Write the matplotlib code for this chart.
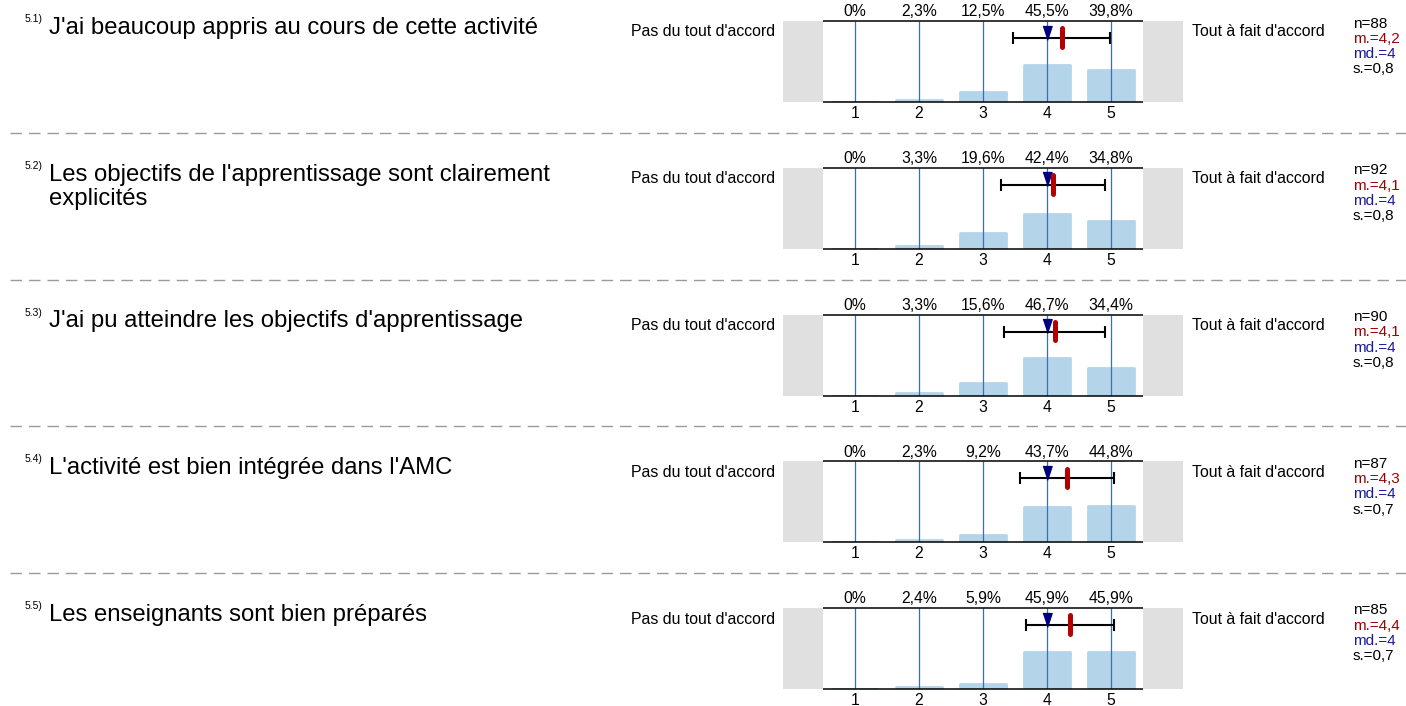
import matplotlib
matplotlib.use("Agg")
import matplotlib.pyplot as plt

plt.rcParams['font.family'] = ['Liberation Sans', 'DejaVu Sans']
plt.rcParams['lines.scale_dashes'] = False

# données
numbers = ["5.1)", "5.2)", "5.3)", "5.4)", "5.5)"]
questions = [
    "J'ai beaucoup appris au cours de cette activité",
    "Les objectifs de l'apprentissage sont clairement\nexplicités",
    "J'ai pu atteindre les objectifs d'apprentissage",
    "L'activité est bien intégrée dans l'AMC",
    "Les enseignants sont bien préparés",
]
scale = [1, 2, 3, 4, 5]
pct = [
    [0, 2.3, 12.5, 45.5, 39.8],
    [0, 3.3, 19.6, 42.4, 34.8],
    [0, 3.3, 15.6, 46.7, 34.4],
    [0, 2.3, 9.2, 43.7, 44.8],
    [0, 2.4, 5.9, 45.9, 45.9],
]
n_resp = [88, 92, 90, 87, 85]
means = [4.23, 4.09, 4.12, 4.31, 4.36]
medians = [4, 4, 4, 4, 4]
sds = [0.76, 0.81, 0.79, 0.73, 0.69]
left_label = "Pas du tout d'accord"
right_label = "Tout à fait d'accord"

W, H = 1406, 706
fig = plt.figure(figsize=(W / 100, H / 100), dpi=100)

def fx(px):
  return px / W

def fy(py):
  return 1 - py / H

def fmt(v):
  return ("%.1f" % v).replace(".", ",")

tri = [(-0.33, 0.5), (0.33, 0.5), (0, -0.5)]

for k in range(5):
  top = 21 + k * 146.75
  ax = fig.add_axes([fx(783), fy(top + 81), 400 / W, 81 / H])
  ax.set_xlim(-0.125, 6.125)
  ax.set_ylim(0, 100)
  for s in ax.spines.values():
    s.set_visible(False)
  ax.set_yticks([])
  ax.set_xticks(scale)
  ax.tick_params(axis='x', length=0, pad=3, labelsize=11.3)

  ax.axvspan(-0.125, 0.5, color='#e0e0e0', lw=0)
  ax.axvspan(5.5, 6.125, color='#e0e0e0', lw=0)

  ax.bar(scale, pct[k], width=0.72, color='#b4d4ea', edgecolor='#b4d4ea',
         linewidth=2, joinstyle='round', zorder=1)
  ax.vlines(scale, 0, 100, color='#3b6fae', lw=0.9, zorder=2)
  ax.hlines([0, 100], 0.5, 5.5, color='black', lw=1.1, zorder=3, clip_on=False)

  for x, p in zip(scale, pct[k]):
    lab = "0%" if p == 0 else fmt(p) + "%"
    ax.annotate(lab, (x, 100), xytext=(0, 1.2), textcoords='offset points',
                ha='center', va='bottom', fontsize=11.3)

  ax.errorbar(means[k], 79, xerr=sds[k], color='black', lw=1.5, capsize=4.5,
              capthick=1.5, zorder=4)
  ax.plot([means[k], means[k]], [68, 91], color='#b40000', lw=3.6,
          solid_capstyle='round', zorder=6)
  ax.plot(medians[k], 85.5, marker=tri, markersize=10, color='#00007f',
          lw=0, zorder=5)

  fig.text(fx(775), fy(top + 11), left_label, ha='right', va='center', fontsize=11.4)
  fig.text(fx(1192), fy(top + 11), right_label, ha='left', va='center', fontsize=11.4)

  stats = [("n=%d" % n_resp[k], 'black'),
           ("m.=" + fmt(means[k]), '#a00000'),
           ("md.=%d" % medians[k], '#1a1a9c'),
           ("s.=" + fmt(sds[k]), 'black')]
  for i, (s, c) in enumerate(stats):
    fig.text(fx(1353), fy(top + 2.5 + i * 15.3), s, ha='left', va='center',
             fontsize=11, color=c)

  fig.text(fx(25), fy(top - 7), numbers[k], ha='left', va='top', fontsize=7.5)
  fig.text(fx(49), fy(top - 4), questions[k], ha='left', va='top', fontsize=17.2,
           linespacing=1.12)

  if k > 0:
    yl = fy(top - 35)
    fig.add_artist(plt.Line2D([fx(10), 1], [yl, yl], color='#9a9a9a', lw=1,
                              dashes=(8.3, 5)))

fig.savefig("out.png", dpi=100)
